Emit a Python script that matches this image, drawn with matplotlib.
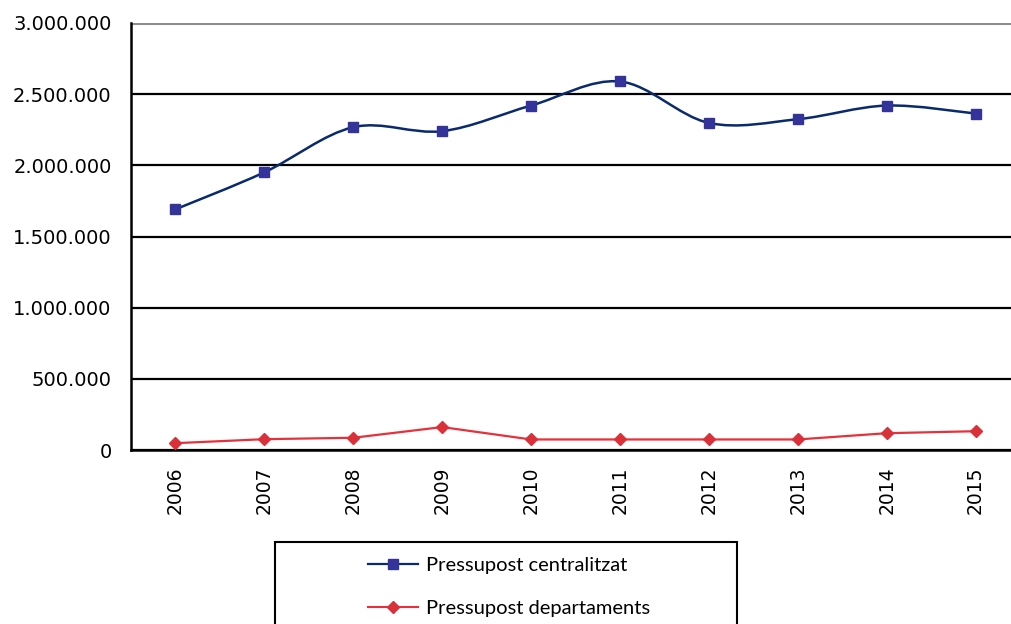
import numpy as np
import matplotlib
matplotlib.use("Agg")
import matplotlib.pyplot as plt
from matplotlib.path import Path
from matplotlib.patches import PathPatch, Rectangle
from matplotlib.lines import Line2D
from matplotlib.ticker import FuncFormatter

years = ["2006", "2007", "2008", "2009", "2010", "2011", "2012", "2013", "2014", "2015"]
centralitzat = [1691000, 1951000, 2268000, 2240000, 2420000, 2589000, 2298000, 2324000, 2420000, 2364000]
departaments = [48000, 76000, 86000, 161000, 74000, 74000, 74000, 74000, 118000, 132000]
yticks = [0, 500000, 1000000, 1500000, 2000000, 2500000, 3000000]

blue_line = "#0a2a6e"
blue_mark = "#333399"
red_line = "#e8303a"
red_mark = "#d9303a"

fig = plt.figure(figsize=(10.11, 6.24), dpi=100)
# axes runs a bit past the right edge, like the cropped original
ax = fig.add_axes([131/1011, 174/624, 889/1011, 427/624])

x = np.arange(len(years))

# smoothed line (excel style bezier through the points)
def smooth_path(xs, ys):
    pts = np.column_stack([xs, ys]).astype(float)
    verts = [pts[0]]
    codes = [Path.MOVETO]
    n = len(pts)
    for i in range(n - 1):
        p0 = pts[i - 1] if i > 0 else pts[i]
        p1 = pts[i]
        p2 = pts[i + 1]
        p3 = pts[i + 2] if i + 2 < n else pts[i + 1]
        c1 = p1 + (p2 - p0) / 6.0
        c2 = p2 - (p3 - p1) / 6.0
        verts += [c1, c2, p2]
        codes += [Path.CURVE4] * 3
    return Path(verts, codes)

ax.add_patch(PathPatch(smooth_path(x, centralitzat), fill=False, edgecolor=blue_line,
                       lw=1.8, zorder=3))
ax.plot(x, centralitzat, ls="none", marker="s", ms=7.5, color=blue_mark, zorder=4)
ax.plot(x, departaments, color=red_line, lw=1.6, marker="D", ms=6,
        mfc=red_mark, mec=red_mark, zorder=4)

ax.set_xlim(-0.5, len(years) - 0.5)
ax.set_ylim(0, 3000000)
ax.set_yticks(yticks)
ax.yaxis.set_major_formatter(FuncFormatter(lambda v, p: f"{int(v):,}".replace(",", ".")))
ax.set_xticks(x)
ax.set_xticklabels(years, rotation=90)
ax.tick_params(axis="y", length=0, pad=14, labelsize=14)
ax.tick_params(axis="x", length=0, pad=12, labelsize=13.5)

ax.yaxis.grid(True, color="black", lw=1.6, zorder=1)
ax.set_axisbelow(True)
ax.get_ygridlines()[-1].set_color("#8c8c8c")
ax.get_ygridlines()[-1].set_linewidth(2.2)
for s in ["top", "right"]:
    ax.spines[s].set_visible(False)
for s in ["left", "bottom"]:
    ax.spines[s].set_linewidth(1.8)

handles = [
    Line2D([], [], color=blue_line, lw=1.6, marker="s", ms=7.5, mfc=blue_mark, mec=blue_mark),
    Line2D([], [], color=red_line, lw=1.5, marker="D", ms=6, mfc=red_mark, mec=red_mark),
]
labels = ["Pressupost centralitzat", "Pressupost departaments"]
fig.legend(handles, labels, loc="upper left", bbox_to_anchor=(358/1011, 1 - 547/624),
           frameon=False, prop={"family": "Lato", "size": 14.5}, handlelength=2.5,
           handletextpad=0.4, labelspacing=1.3, borderpad=0)
fig.add_artist(Rectangle((275/1011, -0.05), 462/1011, 0.05 + (624 - 542)/624,
                         transform=fig.transFigure, fill=False, edgecolor="black", lw=1.5))

fig.savefig("out.png", dpi=100)
